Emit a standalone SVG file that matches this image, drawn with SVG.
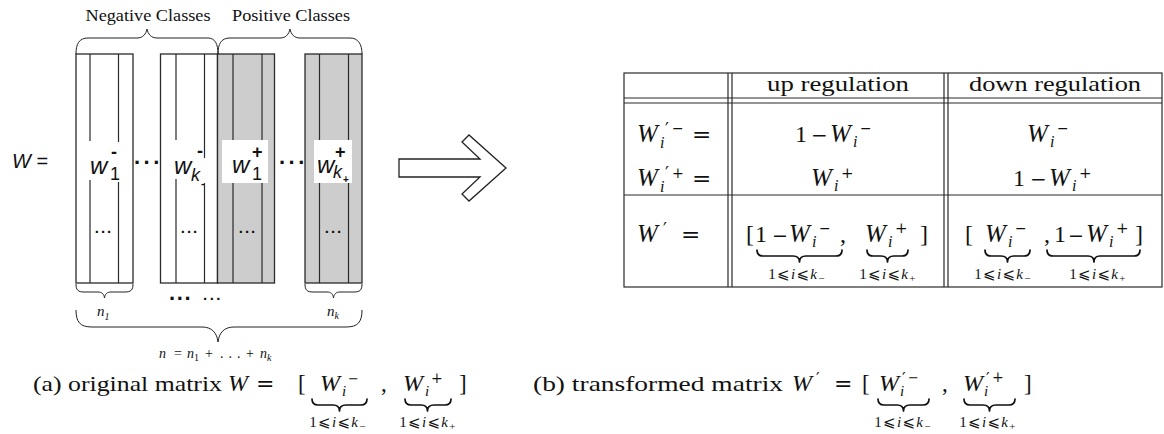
<svg xmlns="http://www.w3.org/2000/svg" width="1164" height="434" viewBox="0 0 1164 434">
<style>
.ln{stroke:#2a2a2a;stroke-width:1.2;fill:none}
.blk{fill:#fff;stroke:#2a2a2a;stroke-width:1.3}
.shd{fill:#cdcdcd;stroke:#2a2a2a;stroke-width:1.3}
.br{fill:none;stroke:#222;stroke-width:1}
.ub{fill:none;stroke:#111;stroke-width:1.7;stroke-linejoin:round;stroke-linecap:round}
.rm{font-family:"Liberation Serif","DejaVu Serif",serif;fill:#111}
.it{font-family:"Liberation Serif","DejaVu Serif",serif;font-style:italic;fill:#111}
.op{font-family:"DejaVu Serif","Liberation Serif",serif;fill:#111}
.pr{font-family:"DejaVu Sans","Liberation Sans",sans-serif;fill:#111}
.sf{font-family:"Liberation Sans",Arial,sans-serif;fill:#111}
.sfi{font-family:"Liberation Sans",Arial,sans-serif;font-style:italic;fill:#111}
.cond{font-family:"Liberation Serif","DejaVu Serif","DejaVu Sans",serif;fill:#111}
.dots{font-family:"Liberation Sans",Arial,sans-serif;font-weight:bold;fill:#111}
</style>

<g id="matrix">
  <text class="sfi" x="12" y="168" font-size="20">W <tspan font-style="normal">=</tspan></text>
  <rect class="blk" x="76" y="54" width="57" height="229"/>
  <rect class="blk" x="160.5" y="54" width="57" height="229"/>
  <rect class="shd" x="217.5" y="54" width="57" height="229"/>
  <rect class="shd" x="305" y="54" width="57" height="229"/>
  <g class="ln">
    <path d="M90,54V141M90,180V283M118.5,54V142M118.5,182V283"/>
    <path d="M176,54V140M176,179V283M204.5,54V158M204.5,183V283"/>
    <path d="M233,54V283M262,54V283"/>
    <path d="M319.5,54V283M348.5,54V283"/>
  </g>
  <rect x="222" y="140" width="46" height="43" fill="#fff"/>
  <rect x="314" y="140" width="38" height="43" fill="#fff"/>
  <text class="sfi" x="90" y="174" font-size="24">w</text>
  <text class="sf" x="111" y="158" font-size="18" font-weight="bold">-</text>
  <text class="sf" x="110" y="180" font-size="18">1</text>
  <text class="sfi" x="174" y="174" font-size="24">w</text>
  <text class="sf" x="197" y="157" font-size="18" font-weight="bold">-</text>
  <text class="sfi" x="191" y="181" font-size="18">k</text>
  <text class="sf" x="201" y="187" font-size="11" font-weight="bold">-</text>
  <text class="sfi" x="232" y="173" font-size="24">w</text>
  <text class="sf" x="252" y="158" font-size="18" font-weight="bold">+</text>
  <text class="sf" x="252" y="180" font-size="18">1</text>
  <text class="sfi" x="317" y="173" font-size="24">w</text>
  <text class="sf" x="335" y="158" font-size="18" font-weight="bold">+</text>
  <text class="sfi" x="333" y="178" font-size="18">k</text>
  <text class="sf" x="343" y="183" font-size="10" font-weight="bold">+</text>
  <text class="dots" x="104" y="233" font-size="15" letter-spacing="2" text-anchor="middle">...</text>
  <text class="dots" x="190" y="233" font-size="15" letter-spacing="2" text-anchor="middle">...</text>
  <text class="dots" x="248" y="233" font-size="15" letter-spacing="2" text-anchor="middle">...</text>
  <text class="dots" x="334" y="233" font-size="15" letter-spacing="2" text-anchor="middle">...</text>
  <text class="dots" x="134" y="164" font-size="22" letter-spacing="3.5">...</text>
  <text class="dots" x="279" y="164" font-size="22" letter-spacing="3.5">...</text>
  <text class="dots" x="169" y="300" font-size="22" letter-spacing="1.6">...</text>
  <text class="dots" x="203" y="300" font-size="15" letter-spacing="2.5">...</text>
</g>

<g id="class-braces">
  <path class="br" d="M76,54C76,44 79,38 88,38L137,38C143,38 146,34 147,29C148,34 151,38 157,38L208,38C215,38 218,44 218,54"/>
  <path class="br" d="M218,54C218,44 221,38 230,38L280,38C286,38 289,34 290,29C291,34 294,38 300,38L350,38C358,38 362,44 362,54"/>
  <text class="rm" x="148" y="21" font-size="17" text-anchor="middle" textLength="125" lengthAdjust="spacingAndGlyphs">Negative Classes</text>
  <text class="rm" x="291" y="21" font-size="17" text-anchor="middle" textLength="118" lengthAdjust="spacingAndGlyphs">Positive Classes</text>
</g>

<g id="size-braces">
  <path class="br" d="M76,284C76,290 78,292 84,292L98,292C102,292 104,294 104.5,298C105,294 107,292 111,292L125,292C131,292 133,290 133,284"/>
  <path class="br" d="M305,284C305,290 307,292 313,292L327,292C331,292 333,294 333.5,298C334,294 336,292 340,292L354,292C360,292 362,290 362,284"/>
  <path class="br" d="M76,310C76,322 80,327 92,327L202,327C212,327 217,333 218,342C219,333 224,327 234,327L346,327C358,327 362,322 362,310"/>
  <text class="it" x="97" y="316" font-size="15">n<tspan font-size="10" dy="4">1</tspan></text>
  <text class="it" x="327" y="316" font-size="15">n<tspan font-size="10" dy="3">k</tspan></text>
  <text class="it" x="159" y="358" font-size="14">n</text>
  <text class="rm" x="174" y="358" font-size="14">=</text>
  <text class="it" x="187" y="358" font-size="14">n<tspan font-size="10" dy="3" font-style="normal">1</tspan></text>
  <text class="rm" x="205" y="358" font-size="14">+</text>
  <text class="rm" x="220" y="358" font-size="14" letter-spacing="5">...</text>
  <text class="rm" x="246" y="358" font-size="14">+</text>
  <text class="it" x="260" y="358" font-size="14">n<tspan font-size="10" dy="3">k</tspan></text>
</g>

<g id="connectors">
  <polygon points="399,159 480,159 462,142 469,135 506,168 469,201 462,194 480,177 399,177" fill="#fff" stroke="#222" stroke-width="1.3" stroke-linejoin="miter"/>
</g>

<g id="table">
  <rect class="ln" x="624" y="73" width="538" height="214"/>
  <path class="ln" d="M624,98H1162M624,103H1162M624,195H1162M728,73V287M732,73V287M944,73V287M948,73V287"/>
  <text class="rm" x="838" y="91" font-size="22" text-anchor="middle" textLength="142" lengthAdjust="spacingAndGlyphs">up regulation</text>
  <text class="rm" x="1055" y="91" font-size="22" text-anchor="middle" textLength="172" lengthAdjust="spacingAndGlyphs">down regulation</text>
  <!-- left column -->
  <text class="it" x="637" y="142" font-size="25">W</text>
  <text class="pr" x="665" y="135" font-size="17">′</text>
  <text class="op" x="672" y="133" font-size="14">−</text>
  <text class="it" x="660" y="148" font-size="16">i</text>
  <text class="op" x="692" y="142" font-size="23">=</text>
  <text class="it" x="637" y="186" font-size="25">W</text>
  <text class="pr" x="665" y="179" font-size="17">′</text>
  <text class="op" x="672" y="178" font-size="14">+</text>
  <text class="it" x="660" y="192" font-size="16">i</text>
  <text class="op" x="692" y="186" font-size="23">=</text>
  <text class="it" x="637" y="242" font-size="25">W</text>
  <text class="pr" x="663" y="235" font-size="17">′</text>
  <text class="op" x="681" y="242" font-size="23">=</text>
  <!-- row 1 -->
  <text class="rm" x="795" y="142" font-size="24">1</text>
  <text class="op" x="811" y="142" font-size="20">−</text>
  <text class="it" x="830" y="142" font-size="25">W</text>
  <text class="it" x="853" y="147" font-size="16">i</text>
  <text class="op" x="860" y="133" font-size="14">−</text>
  <text class="it" x="1027" y="142" font-size="25">W</text>
  <text class="it" x="1050" y="147" font-size="16">i</text>
  <text class="op" x="1057" y="133" font-size="14">−</text>
  <!-- row 2 -->
  <text class="it" x="811" y="186" font-size="25">W</text>
  <text class="it" x="834" y="191" font-size="16">i</text>
  <text class="op" x="841" y="178" font-size="15">+</text>
  <text class="rm" x="1013" y="186" font-size="24">1</text>
  <text class="op" x="1030" y="186" font-size="20">−</text>
  <text class="it" x="1049" y="186" font-size="25">W</text>
  <text class="it" x="1072" y="191" font-size="16">i</text>
  <text class="op" x="1079" y="178" font-size="15">+</text>
  <!-- row 3 up -->
  <text class="rm" x="746" y="242" font-size="24">[</text>
  <text class="rm" x="755" y="242" font-size="24">1</text>
  <text class="op" x="772" y="242" font-size="19">−</text>
  <text class="it" x="789" y="242" font-size="25">W</text>
  <text class="it" x="812" y="247" font-size="16">i</text>
  <text class="op" x="819" y="233" font-size="14">−</text>
  <text class="rm" x="840" y="242" font-size="24">,</text>
  <text class="it" x="865" y="242" font-size="25">W</text>
  <text class="it" x="888" y="247" font-size="16">i</text>
  <text class="op" x="895" y="233" font-size="15">+</text>
  <text class="rm" x="920" y="242" font-size="24">]</text>
  <path class="ub" d="M757,250Q757,256 763,256L793,256Q799.5,256 799.5,262Q799.5,256 806,256L836,256Q842,256 842,250"/>
  <path class="ub" d="M867,250Q867,256 873,256L881,256Q887.5,256 887.5,262Q887.5,256 894,256L902,256Q908,256 908,250"/>
  <text class="cond" x="797" y="279" font-size="15" text-anchor="middle" letter-spacing="1.3">1⩽<tspan font-style="italic">i</tspan>⩽<tspan font-style="italic">k</tspan><tspan font-size="11" dy="3">−</tspan></text>
  <text class="cond" x="888" y="279" font-size="15" text-anchor="middle" letter-spacing="1.3">1⩽<tspan font-style="italic">i</tspan>⩽<tspan font-style="italic">k</tspan><tspan font-size="11" dy="3">+</tspan></text>
  <!-- row 3 down -->
  <text class="rm" x="965" y="242" font-size="24">[</text>
  <text class="it" x="985" y="242" font-size="25">W</text>
  <text class="it" x="1008" y="247" font-size="16">i</text>
  <text class="op" x="1015" y="233" font-size="14">−</text>
  <text class="rm" x="1044" y="242" font-size="24">,</text>
  <text class="rm" x="1054" y="242" font-size="24">1</text>
  <text class="op" x="1068" y="242" font-size="19">−</text>
  <text class="it" x="1086" y="242" font-size="25">W</text>
  <text class="it" x="1109" y="247" font-size="16">i</text>
  <text class="op" x="1116" y="233" font-size="15">+</text>
  <text class="rm" x="1135" y="242" font-size="24">]</text>
  <path class="ub" d="M985,250Q985,256 991,256L1001,256Q1007.5,256 1007.5,262Q1007.5,256 1014,256L1024,256Q1030,256 1030,250"/>
  <path class="ub" d="M1047,250Q1047,256 1053,256L1088,256Q1094,256 1094,262Q1094,256 1100,256L1134,256Q1140,256 1140,250"/>
  <text class="cond" x="1003" y="279" font-size="15" text-anchor="middle" letter-spacing="1.3">1⩽<tspan font-style="italic">i</tspan>⩽<tspan font-style="italic">k</tspan><tspan font-size="11" dy="3">−</tspan></text>
  <text class="cond" x="1098" y="279" font-size="15" text-anchor="middle" letter-spacing="1.3">1⩽<tspan font-style="italic">i</tspan>⩽<tspan font-style="italic">k</tspan><tspan font-size="11" dy="3">+</tspan></text>
</g>

<g id="caption-a">
  <text class="rm" x="33" y="391" font-size="22" textLength="189" lengthAdjust="spacingAndGlyphs">(a) original matrix</text>
  <text class="it" x="228" y="391" font-size="24">W</text>
  <text class="op" x="256" y="391" font-size="22">=</text>
  <text class="rm" x="298" y="391" font-size="23">[</text>
  <text class="it" x="320" y="391" font-size="24">W</text>
  <text class="it" x="342" y="396" font-size="15">i</text>
  <text class="op" x="348" y="383" font-size="13">−</text>
  <text class="rm" x="381" y="391" font-size="23">,</text>
  <text class="it" x="403" y="391" font-size="24">W</text>
  <text class="it" x="425" y="396" font-size="15">i</text>
  <text class="op" x="431" y="383" font-size="14">+</text>
  <text class="rm" x="459" y="391" font-size="23">]</text>
  <path class="ub" d="M312,399Q312,405 318,405L333,405Q339.5,405 339.5,411Q339.5,405 346,405L361,405Q367,405 367,399"/>
  <path class="ub" d="M405,399Q405,405 411,405L421,405Q427.5,405 427.5,411Q427.5,405 434,405L445,405Q451,405 451,399"/>
  <text class="cond" x="338" y="427" font-size="15" text-anchor="middle" letter-spacing="1.3">1⩽<tspan font-style="italic">i</tspan>⩽<tspan font-style="italic">k</tspan><tspan font-size="11" dy="3">−</tspan></text>
  <text class="cond" x="428" y="427" font-size="15" text-anchor="middle" letter-spacing="1.3">1⩽<tspan font-style="italic">i</tspan>⩽<tspan font-style="italic">k</tspan><tspan font-size="11" dy="3">+</tspan></text>
</g>

<g id="caption-b">
  <text class="rm" x="533" y="391" font-size="22" textLength="250" lengthAdjust="spacingAndGlyphs">(b) transformed matrix</text>
  <text class="it" x="792" y="391" font-size="24">W</text>
  <text class="pr" x="816" y="384" font-size="16">′</text>
  <text class="op" x="834" y="391" font-size="22">=</text>
  <text class="rm" x="862" y="391" font-size="23">[</text>
  <text class="it" x="879" y="391" font-size="24">W</text>
  <text class="pr" x="902" y="384" font-size="16">′</text>
  <text class="op" x="908" y="382" font-size="13">−</text>
  <text class="it" x="900" y="396" font-size="15">i</text>
  <text class="rm" x="942" y="391" font-size="23">,</text>
  <text class="it" x="963" y="391" font-size="24">W</text>
  <text class="pr" x="986" y="384" font-size="16">′</text>
  <text class="op" x="992" y="382" font-size="14">+</text>
  <text class="it" x="984" y="396" font-size="15">i</text>
  <text class="rm" x="1024" y="391" font-size="23">]</text>
  <path class="ub" d="M878,399Q878,405 884,405L897,405Q903.5,405 903.5,411Q903.5,405 910,405L923,405Q929,405 929,399"/>
  <path class="ub" d="M964,399Q964,405 970,405L983,405Q989.5,405 989.5,411Q989.5,405 996,405L1009,405Q1015,405 1015,399"/>
  <text class="cond" x="903" y="427" font-size="15" text-anchor="middle" letter-spacing="1.3">1⩽<tspan font-style="italic">i</tspan>⩽<tspan font-style="italic">k</tspan><tspan font-size="11" dy="3">−</tspan></text>
  <text class="cond" x="988" y="427" font-size="15" text-anchor="middle" letter-spacing="1.3">1⩽<tspan font-style="italic">i</tspan>⩽<tspan font-style="italic">k</tspan><tspan font-size="11" dy="3">+</tspan></text>
</g>
</svg>
